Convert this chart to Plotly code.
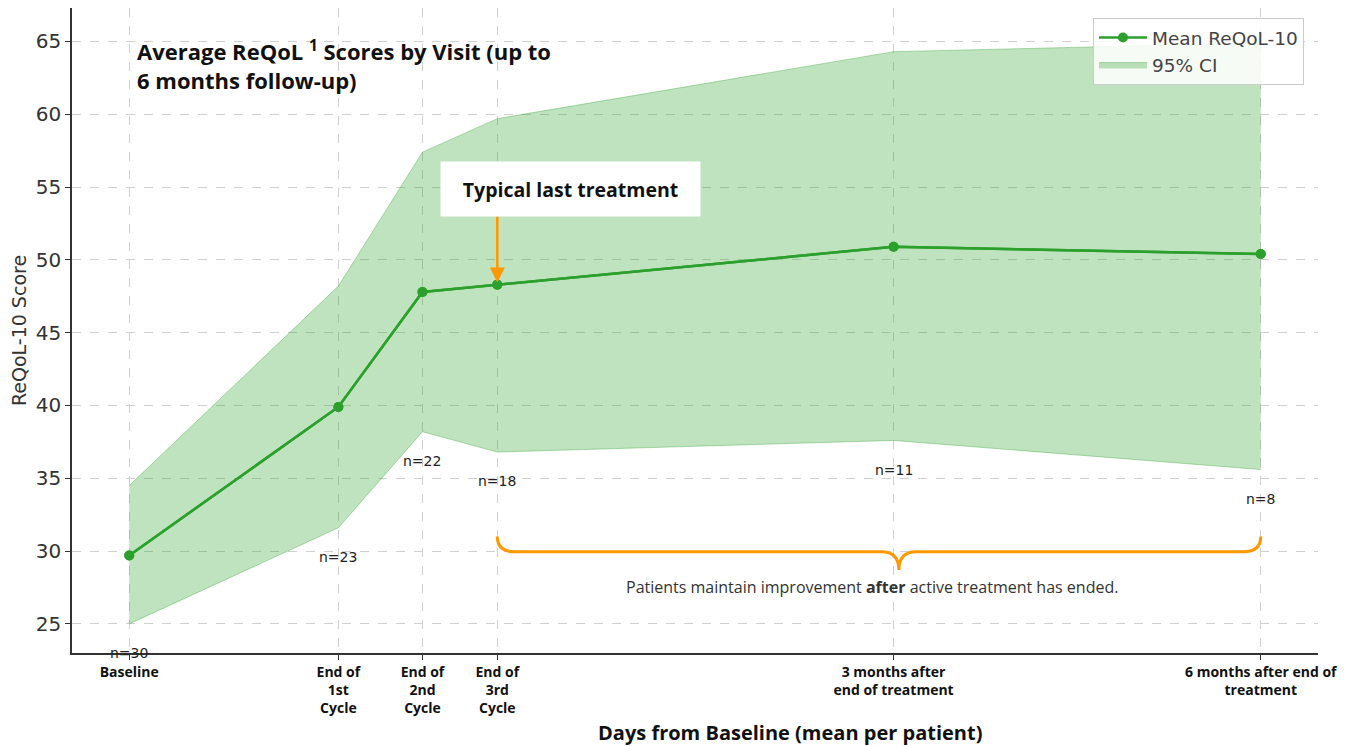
import plotly.graph_objects as go

# ---- data ----
visits = ["Baseline", "End of<br>1st<br>Cycle", "End of<br>2nd<br>Cycle", "End of<br>3rd<br>Cycle",
          "3 months after<br>end of treatment", "6 months after end of<br>treatment"]
days = [0, 47.5, 66.6, 83.6, 173.6, 257.0]
mean_score = [29.7, 39.9, 47.8, 48.3, 50.9, 50.4]
ci_upper = [34.5, 48.2, 57.4, 59.7, 64.3, 64.9]
ci_lower = [25.0, 31.6, 38.2, 36.8, 37.6, 35.6]
n_patients = [30, 23, 22, 18, 11, 8]
y_ticks = [25, 30, 35, 40, 45, 50, 55, 60, 65]

GREEN = "#2ca02c"
ORANGE = "#ff9800"

fig = go.Figure()
fig.add_trace(go.Scatter(x=days, y=mean_score, mode="lines+markers", name="Mean ReQoL-10",
                         line=dict(color=GREEN, width=2.5), marker=dict(color=GREEN, size=10)))
fig.add_trace(go.Scatter(x=days, y=ci_upper, mode="lines", line=dict(color="rgba(44,160,44,0.35)", width=1),
                         showlegend=False, hoverinfo="skip"))
fig.add_trace(go.Scatter(x=days, y=ci_lower, mode="lines", line=dict(color="rgba(44,160,44,0.35)", width=1),
                         fill="tonexty", fillcolor="rgba(44,160,44,0.3)", name="95% CI"))
# redraw mean on top of band
fig.add_trace(go.Scatter(x=days, y=mean_score, mode="lines+markers", showlegend=False, hoverinfo="skip",
                         line=dict(color=GREEN, width=2.5), marker=dict(color=GREEN, size=10)))

# n labels below lower CI
for d, lo, n in zip(days, ci_lower, n_patients):
    fig.add_annotation(x=d, y=lo - 2, text=f"n={n}", showarrow=False,
                       font=dict(family="DejaVu Sans", size=14, color="#222"))

# Title
fig.add_annotation(xref="paper", yref="paper", x=0.0506, y=0.962, xanchor="left", yanchor="top", align="left",
                   showarrow=False,
                   text="<b>Average ReQoL <sup>1</sup> Scores by Visit (up to<br>6 months follow-up)</b>",
                   font=dict(family="Open Sans", size=22, color="#111"))

# Typical last treatment box and arrow
fig.add_annotation(x=days[3], y=mean_score[3] + 0.15, ax=days[3], ay=53.1, xref="x", yref="y",
                   axref="x", ayref="y", text="", showarrow=True, arrowhead=2, arrowsize=1.2,
                   arrowwidth=2.5, arrowcolor=ORANGE)
fig.add_annotation(x=100.2, y=54.9, xref="x", yref="y", text="<b>Typical last treatment</b>", showarrow=False,
                   bgcolor="white", width=257, height=52, font=dict(family="Open Sans", size=19.5, color="#111"))

# Brace from end of 3rd cycle to 6 months
x0, x1 = days[3], days[5]
xc = (x0 + x1) / 2 + 4.5
yt, ym, yb = 31.0, 29.95, 28.7
dx = 4.0
path = (f"M {x0},{yt} Q {x0},{ym} {x0+dx},{ym} L {xc-dx},{ym} Q {xc},{ym} {xc},{yb} "
        f"Q {xc},{ym} {xc+dx},{ym} L {x1-dx},{ym} Q {x1},{ym} {x1},{yt}")
fig.add_shape(type="path", path=path, xref="x", yref="y", line=dict(color=ORANGE, width=3))
fig.add_annotation(x=xc - 6, y=27.5, xref="x", yref="y", showarrow=False,
                   text="Patients maintain improvement <b>after</b> active treatment has ended.",
                   font=dict(family="Open Sans", size=16, color="#333"))

# X axis title
fig.add_annotation(xref="paper", yref="paper", x=0.576, y=-0.123, yanchor="middle", showarrow=False,
                   text="<b>Days from Baseline (mean per patient)</b>",
                   font=dict(family="Open Sans", size=20, color="#111"))

# The page body has an 8px default margin, so the figure is sized to fit the window
fig.update_layout(
    width=1355, height=738,
    margin=dict(l=64, r=45, t=0, b=93),
    plot_bgcolor="white", paper_bgcolor="white",
    font=dict(family="DejaVu Sans", color="#333"),
    legend=dict(x=0.8194, y=0.9845, xanchor="left", yanchor="top", bgcolor="rgba(255,255,255,0.85)",
                bordercolor="#cccccc", borderwidth=1, font=dict(family="DejaVu Sans", size=18.5, color="#444"),
                itemwidth=48, traceorder="normal"),
    xaxis=dict(range=[-13, 270], tickmode="array", tickvals=days,
               ticktext=[f"<b>{v}</b>" for v in visits],
               tickfont=dict(family="Open Sans", size=14, color="#111"),
               showgrid=True, gridcolor="#d0d0d0", griddash="dash", gridwidth=1,
               showline=True, linecolor="#333", linewidth=1.5, ticks="outside", ticklen=5, tickcolor="#333",
               zeroline=False, automargin=False),
    yaxis=dict(range=[23, 67.3], tickmode="array", tickvals=y_ticks,
               tickfont=dict(family="DejaVu Sans", size=20, color="#333"),
               showgrid=True, gridcolor="#d0d0d0", griddash="dash", gridwidth=1,
               showline=True, linecolor="#333", linewidth=1.5, ticks="outside", ticklen=5, tickcolor="#333",
               zeroline=False, automargin=False,
               title=dict(text="ReQoL-10 Score", font=dict(family="DejaVu Sans", size=19, color="#333"),
                          standoff=4)),
)

fig.write_html("out.html")
